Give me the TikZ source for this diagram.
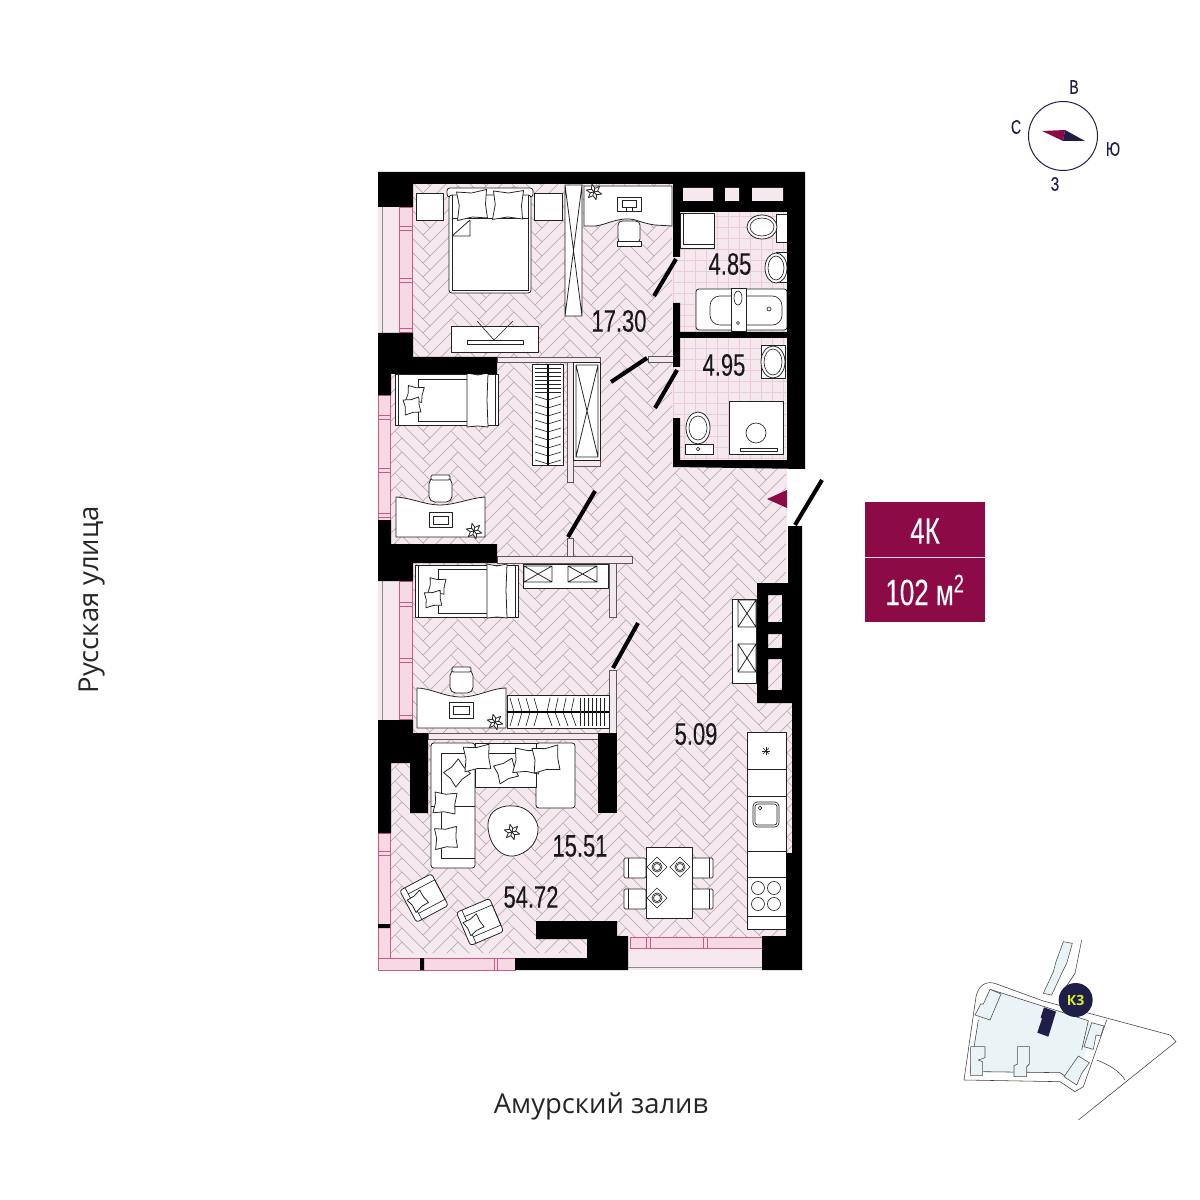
\documentclass[tikz,border=0pt]{standalone}
\usepackage{fontspec}
\setmainfont{Open Sans}
\newfontfamily\numfont[FakeStretch=0.71,FakeBold=0.15]{Liberation Sans}
\newfontfamily\signfont{Open Sans}
\definecolor{floorpink}{HTML}{F6E8EF}
\definecolor{tileline}{HTML}{EBCBDA}
\definecolor{parquetline}{HTML}{BDB0B7}
\definecolor{framepink}{HTML}{C95A86}
\definecolor{framefill}{HTML}{F7D9E5}
\definecolor{wine}{HTML}{8C0B47}
\definecolor{navy}{HTML}{1E1E48}
\definecolor{acid}{HTML}{D8F02E}
\definecolor{siteblue}{HTML}{EAF3F6}
\definecolor{furnline}{HTML}{222222}
\tikzset{
  furn/.style={draw=furnline,fill=white,line width=0.55pt,line join=round},
  thinline/.style={draw=furnline,line width=0.45pt},
  wall/.style={fill=black},
  doorleaf/.style={draw=black,line width=2.9pt},
  partition/.style={draw=black!65,fill=floorpink,line width=0.5pt},
  frameline/.style={draw=framepink,fill=framefill,line width=0.55pt},
  parquet/.style={draw=parquetline,line width=0.45pt},
  arealabel/.style={font=\numfont\fontsize{22}{26}\selectfont,text=black!90,inner sep=0pt},
  sitedraw/.style={draw=black!75,line width=0.4pt},
  house/.style={draw=black!70,fill=siteblue,line width=0.4pt},
}
% repeated furniture
\newcommand{\xbox}[4]{\draw[furn] (#1,#2) rectangle (#3,#4) (#1,#2) -- (#3,#4) (#1,#4) -- (#3,#2);}
\newcommand{\plantat}[2]{%
  \foreach \a in {0,60,...,300}
    \draw[furn,shift={(#1,#2)},rotate=\a+15] (0,0) -- (2,-3) -- (0,-8) -- (-2,-3) -- cycle;}
\newcommand{\pillow}[4]{\draw[furn,shift={(#1,#2)},rotate=#3,scale=#4]
  (-1,-.9) -- (0,-.8) -- (1,-1) -- (.9,0) -- (1,.9) -- (0,.8) -- (-1,1) -- (-.85,0) -- cycle;}
\newcommand{\armchair}[3]{%
  \begin{scope}[shift={(#1,#2)},rotate=#3]
    \draw[furn,rounded corners=2pt] (-18,-18) rectangle (18,18);
    \draw[thinline] (-12,-11) rectangle (18,11) (-12,-18) -- (-12,18);
    \pillow{-7}{0}{8}{8}
  \end{scope}}

\begin{document}
\begin{tikzpicture}[x=0.025cm,y=-0.025cm]
\useasboundingbox (0,0) rectangle (1200,1200);
\fill[white] (0,0) rectangle (1200,1200);

% floor
\fill[floorpink] (413,184) -- (787,184) -- (787,703) -- (792,703) -- (792,853) -- (787,853) -- (787,950) -- (628,950) -- (628,958) -- (390,958)
  -- (390,740) -- (413,720) -- (413,581) -- (390,548) -- (390,373) -- (413,358) -- cycle;
\begin{scope}
  \clip (413,184) -- (672,184) -- (672,468) -- (786,468) -- (786,703) -- (792,703) -- (792,853) -- (786,853) -- (786,937) -- (628,937) -- (628,953)
    -- (390,953) -- (390,740) -- (413,720) -- (413,581) -- (390,548) -- (390,373) -- (413,358) -- cycle;
  \foreach \i in {0,...,7}
    \foreach \j in {0,...,60}
      \draw[parquet,shift={(374+56*\i,186+14*\j)}]
        (0,0) -- (28,-28) -- (21,-35) -- (-7,-7) -- cycle
        (49,-7) -- (56,-14) -- (28,-42) -- (21,-35) -- cycle;
\end{scope}

% bathrooms
\fill[floorpink] (673,205) rectangle (787,335);
\fill[floorpink] (673,335) rectangle (787,462);
\begin{scope}
  \clip (673,205) rectangle (787,462);
  \foreach \t in {0,...,10}
    \draw[tileline,line width=0.45pt] (673+\t*11,205) -- (673+\t*11,462);
  \foreach \t in {0,...,24}
    \draw[tileline,line width=0.45pt] (673,205+\t*11) -- (787,205+\t*11);
\end{scope}

% windows
\fill[floorpink] (378,207) rectangle (399,333);
\draw[black!45,line width=0.4pt] (382,207) -- (382,333);
\draw[frameline] (399,207) rectangle (412,333);
\foreach \y in {228,280,330}
  \draw[frameline] (399,\y-2) rectangle (412,\y+2);
\draw[frameline] (378,395) rectangle (390,520);
\foreach \y in {417,470,515}
  \draw[frameline] (378,\y-2) rectangle (390,\y+2);
\fill[floorpink] (378,581) rectangle (399,720);
\draw[black!45,line width=0.4pt] (382,581) -- (382,720);
\draw[frameline] (399,581) rectangle (412,720);
\foreach \y in {604,660,717}
  \draw[frameline] (399,\y-2) rectangle (412,\y+2);
\draw[frameline] (378,833) rectangle (390,958);
\draw[frameline] (378,851) rectangle (390,855);
\draw[frameline] (378,958) rectangle (515,970);
\draw[frameline] (494,958) rectangle (497,970);
\fill[black] (420,958) rectangle (424,970) (378,924) rectangle (390,928);
\fill[floorpink] (628,948) rectangle (762,970);
\draw[black!45,line width=0.4pt] (628,967) -- (762,967);
\draw[frameline] (630,937) rectangle (762,948);
\foreach \x in {648,705}
  \draw[frameline] (\x-2,937) rectangle (\x+2,948);

% partitions
\draw[partition] (567,362) rectangle (573,482);
\draw[partition] (497,357) rectangle (600,362);
\draw[partition] (648,356) rectangle (673,362);
\draw[partition] (567,538) rectangle (573,556);
\draw[partition] (497,556) rectangle (632,563);
\draw[partition] (609,563) rectangle (616,617);
\draw[partition] (609,670) rectangle (616,733);
\draw[partition] (428,733) rectangle (598,739);
\draw[partition] (573,460) rectangle (600,466);

% main bedroom
\draw[furn] (416,193) rectangle (443,220);
\draw[furn] (534,193) rectangle (562,220);
\draw[furn,rounded corners=2pt] (447,188) rectangle (533,197);
\draw[furn,rounded corners=2pt] (449,195) rectangle (531,293);
\draw[thinline] (452,195) -- (452,290) -- (528,290) -- (528,195);
\draw[thinline] (452,218) -- (528,218);
\pillow{472}{205}{2}{15}
\pillow{508}{205}{-2}{15}
\draw[furn] (452,236) -- (470,220) -- (470,236) -- cycle;
\xbox{565}{185}{582}{316}
\draw[furn] (584,186) -- (672,186) -- (672,226) -- (655,225) .. controls (640,223) and (635,218) .. (625,219) .. controls (612,220) and (605,225) .. (595,226) -- (584,226) -- cycle;
\plantat{594}{192}
\draw[furn] (617,197) rectangle (641,211);
\draw[thinline] (622,200) rectangle (636,207) (626,211) -- (626,207) (632,211) -- (632,207);
\draw[furn,rounded corners=3pt] (618,221) rectangle (640,243);
\draw[furn] (617,241) rectangle (641,246);
\draw[furn] (451,326) rectangle (538,352);
\draw[thinline] (477,321) -- (494,340) -- (513,321);
\draw[furn] (467,340) rectangle (523,344);

% second bedroom
\draw[furn] (395,374) rectangle (498,425);
\draw[thinline] (398,374) -- (398,425) (495,374) -- (495,425);
\draw[thinline] (418,379) -- (467,379) (418,421) -- (467,421) (418,379) -- (418,421);
\draw[furn] (467,373) -- (478,375) -- (488,373) -- (487,400) -- (488,427) -- (478,426) -- (467,427) -- cycle;
\pillow{415}{394}{-10}{8}
\pillow{412}{406}{8}{8}
% hangers
\draw[furn] (532,364) rectangle (563,465);
\draw[black,line width=1.2pt] (548,364) -- (548,465);
\foreach \y in {368,372,...,392}
  \draw[thinline] (535,\y) -- (561,\y);
\foreach \y in {396,404,...,460}
  \draw[thinline] (535,\y) -- (548,\y+4) -- (561,\y);
% wardrobe by the hall
\draw[furn] (573,362) rectangle (600,460);
\xbox{576}{365}{598}{457}
\draw[furn] (396,497) .. controls (412,498) and (425,505) .. (440,505) .. controls (455,505) and (470,498) .. (485,497) -- (485,537) -- (396,537) -- cycle;
\draw[furn,rounded corners=4pt] (429,478) rectangle (452,502);
\draw[furn,rounded corners=1pt] (431,475) rectangle (450,480);
\draw[furn] (429,512) rectangle (452,527);
\draw[thinline] (433,516) rectangle (448,524);
\plantat{474}{531}

% third bedroom
\draw[furn] (415,565) rectangle (518,617);
\draw[thinline] (418,565) -- (418,617) (515,565) -- (515,617);
\draw[thinline] (438,569) -- (487,569) (438,613) -- (487,613) (438,569) -- (438,613);
\draw[furn] (487,564) -- (497,566) -- (507,564) -- (506,590) -- (507,618) -- (497,617) -- (487,618) -- cycle;
\pillow{437}{586}{-8}{8}
\pillow{433}{599}{6}{8}
\draw[furn] (523,564) rectangle (608,588);
\xbox{524}{566}{552}{582}
\xbox{568}{566}{597}{582}
\draw[furn] (417,688) .. controls (430,688) and (445,697) .. (461,697) .. controls (478,697) and (492,688) .. (506,688) -- (506,728) -- (417,728) -- cycle;
\draw[furn,rounded corners=4pt] (450,670) rectangle (473,693);
\draw[furn,rounded corners=1pt] (452,667) rectangle (471,672);
\draw[furn] (449,702) rectangle (473,718);
\draw[thinline] (453,706) rectangle (469,714);
\plantat{495}{722}
\draw[furn] (507,695) rectangle (609,728);
\draw[black,line width=1.2pt] (507,712) -- (609,712);
\foreach \x in {510,518,...,538}
  \draw[thinline] (\x,698) -- (\x+4,712) -- (\x,726);
\foreach \x in {550,558,...,574}
  \draw[thinline] (\x,698) -- (\x-3,712) -- (\x+2,726);
\foreach \x in {580,584,...,606}
  \draw[thinline] (\x,698) -- (\x,726);

% bath one
\draw[furn] (680,213) rectangle (714,248);
\draw[thinline] (683,213) -- (683,244) -- (714,244);
\draw[furn] (776,214) rectangle (787,242);
\draw[furn] (762,227) ellipse (15 and 12);
\draw[thinline] (762,227) ellipse (12 and 9);
\draw[furn] (776,252) rectangle (787,282);
\draw[furn] (776,268) ellipse (11 and 15);
\draw[thinline] (776,268) ellipse (8 and 12);
\draw[furn,rounded corners=2pt] (696,289) rectangle (787,330);
\draw[thinline,rounded corners=7pt] (710,296) rectangle (782,325);
\draw[furn] (731,288) rectangle (746,331);
\draw[thinline] (738,298) ellipse (4 and 7) (738,323) circle (1.5) (769,309) circle (2);

% bath two
\draw[furn] (761,345) rectangle (785,378);
\draw[furn] (773,362) ellipse (12 and 16);
\draw[thinline] (773,362) ellipse (9 and 13);
\draw[furn] (698,428) ellipse (12 and 16);
\draw[thinline] (698,428) ellipse (9 and 12);
\draw[furn] (685,444) rectangle (713,454);
\draw[thinline] (698,449) circle (1.8);
\draw[furn] (729,401) rectangle (783,454);
\draw[thinline] (756,433) circle (10);
\draw[furn] (740,448) rectangle (777,451);

% living room
\draw[furn,rounded corners=2pt] (431,743) rectangle (475,868);
\draw[furn,rounded corners=2pt] (536,743) rectangle (575,808);
\draw[furn] (475,743) rectangle (536,787);
\draw[thinline] (441,753) -- (441,858) -- (475,858) (431,806) -- (475,806) (441,753) -- (536,753);
\pillow{457}{773}{40}{10}
\pillow{477}{758}{4}{13}
\pillow{506}{771}{20}{10}
\pillow{527}{761}{-6}{13}
\pillow{546}{759}{5}{13}
\pillow{445}{803}{-6}{11}
\pillow{446}{838}{3}{11}
\draw[furn] (488,825) .. controls (488,808) and (505,805) .. (513,806) .. controls (530,806) and (539,822) .. (538,830) .. controls (537,848) and (520,857) .. (510,856) .. controls (498,855) and (488,842) .. (488,825) -- cycle;
\plantat{512}{832}
\armchair{424}{898}{28}
\armchair{480}{922}{23}

% dining table
\foreach \y in {858,889}
  {\draw[furn,rounded corners=1pt] (624,\y) rectangle (646,\y+20);
   \draw[thinline] (628,\y) -- (628,\y+20);
   \draw[furn,rounded corners=1pt] (692,\y) rectangle (713,\y+20);
   \draw[thinline] (709,\y) -- (709,\y+20);}
\draw[furn] (646,847) rectangle (692,918);
\foreach \x/\y in {657/867,680/867,657/898}
  {\draw[thinline] (\x-10,\y) -- (\x,\y-10) -- (\x+10,\y) -- (\x,\y+10) -- cycle;
   \draw[thinline] (\x,\y) circle (5) (\x,\y) circle (3.5);}

% kitchen
\draw[furn] (747,732) rectangle (786,929);
\foreach \y in {769,796,851,877,916}
  \draw[thinline] (747,\y) -- (786,\y);
\foreach \a in {0,45,135}
  \draw[thinline,shift={(766,751)},rotate=\a] (-4,0) -- (4,0);
\draw[thinline,shift={(766,751)}] (0,-4) -- (0,4);
\draw[thinline,rounded corners=3pt] (753,802) rectangle (779,827);
\draw[thinline,rounded corners=2pt] (755,804) rectangle (777,825);
\draw[thinline] (760,808) circle (1.8);
\foreach \x/\y in {758/888,774/888,758/904,774/904}
  \draw[thinline] (\x,\y) circle (6.5);

% hood
\draw[furn] (732,599) rectangle (756,683);
\xbox{738}{600}{756}{627}
\xbox{738}{644}{756}{672}

% walls
\fill[wall,even odd rule] (378,172) -- (805,172) -- (805,469) -- (673,467) -- (673,418) -- (680,418)
  -- (680,460) -- (787,460) -- (787,338) -- (680,338) -- (680,367) -- (673,367) -- (673,303) -- (680,303)
  -- (680,332) -- (787,332) -- (787,212) -- (680,212) -- (680,257) -- (673,257) -- (673,184) -- (413,184)
  -- (413,207) -- (378,207) -- cycle
  (683,188) rectangle (713,201) (725,188) rectangle (739,201) (752,188) rectangle (783,201);
\fill[floorpink] (683,188) rectangle (713,201) (725,188) rectangle (739,201) (752,188) rectangle (783,201);
\fill[wall] (378,333) -- (413,333) -- (413,357) -- (497,357) -- (497,374) -- (391,374) -- (391,395) -- (378,395) -- cycle;
\fill[wall] (378,520) -- (391,520) -- (391,544) -- (497,544) -- (497,563) -- (413,563) -- (413,581) -- (378,581) -- cycle;
\fill[wall] (378,720) -- (413,720) -- (413,733) -- (428,733) -- (428,813) -- (410,813) -- (410,763) -- (391,763) -- (391,833) -- (378,833) -- cycle;
\fill[wall] (598,733) rectangle (617,813);
\fill[wall] (536,921) -- (617,921) -- (617,936) -- (628,936) -- (628,970) -- (515,970) -- (515,958) -- (587,958) -- (587,939) -- (536,939) -- cycle;
\fill[wall,even odd rule] (788,526) -- (802,526) -- (802,970) -- (762,970) -- (762,936) -- (786,936) -- (786,853) -- (792,853) -- (792,703) -- (757,703) -- (757,583) -- (788,583) -- cycle
  (768,595) rectangle (782,622) (768,634) rectangle (782,648) (768,659) rectangle (782,690);

% doors
\coordinate (door1a) at (676,259); \coordinate (door1b) at (654,296);
\coordinate (door2a) at (647,358); \coordinate (door2b) at (611,382);
\coordinate (door3a) at (677,370); \coordinate (door3b) at (655,408);
\coordinate (door4a) at (595,491); \coordinate (door4b) at (568,537);
\coordinate (door5a) at (638,623); \coordinate (door5b) at (613,668);
\coordinate (door6a) at (822,480); \coordinate (door6b) at (795,525);
\draw[doorleaf] (door1a) -- (door1b);
\draw[doorleaf] (door2a) -- (door2b);
\draw[doorleaf] (door3a) -- (door3b);
\draw[doorleaf] (door4a) -- (door4b);
\draw[doorleaf] (door5a) -- (door5b);
\draw[doorleaf] (door6a) -- (door6b);
\fill[wine] (767,499) -- (787,490) -- (787,508) -- cycle;

% areas
\node[arealabel] (bath1) at (730,264) {4.85};
\node[arealabel] (bath2) at (724,365) {4.95};
\node[arealabel] (bedroom) at (619,321) {17.30};
\node[arealabel] (hall) at (696,734) {5.09};
\node[arealabel] (living) at (580,846) {15.51};
\node[arealabel] (total) at (531,897) {54.72};

% streets
\node[font=\signfont\fontsize{19.5}{23}\selectfont,text=black!85,inner sep=0pt] (bay) at (601,1106) {Амурский залив};
\node[font=\signfont\fontsize{19.5}{23}\selectfont,text=black!85,inner sep=0pt,rotate=90] (street) at (92,600) {Русская улица};

% badge
\fill[wine] (865,502) rectangle (985,622);
\draw[framefill,line width=0.5pt] (865,557) -- (985,557);
\node[font=\numfont\fontsize{26}{30}\selectfont,text=white,inner sep=0pt] (rooms) at (925,531) {4К};
\node[font=\numfont\fontsize{26}{30}\selectfont,text=white,inner sep=0pt] (size) at (925,590) {102 м\textsuperscript{2}};

% compass
\draw[navy,line width=0.7pt] (1063,136) circle (34.5);
\fill[wine] (1042,131) -- (1065,130) -- (1063,141) -- cycle;
\fill[navy] (1065,130) -- (1085,141) -- (1063,141) -- cycle;
\foreach \nm/\x/\y/\t in {east/1074/87/В,north/1016/127/С,south/1113/149/Ю,west/1055/184/З}
  \node[font=\numfont\fontsize{14}{16}\selectfont,text=navy,inner sep=0pt] (\nm) at (\x,\y) {\t};

% site plan
\begin{scope}[shift={(950,930)},scale=1/3]
  \fill[siteblue] (85,270) -- (120,178) -- (415,272) -- (460,285) -- (400,380) -- (340,435) -- (330,428) -- (60,428) -- cycle;
  \draw[sitedraw] (85,270) -- (60,428) (120,178) -- (415,272) -- (395,360) (100,425) -- (330,428) -- (345,438);
  \draw[sitedraw] (42,450) -- (78,200) .. controls (85,165) and (110,150) .. (140,162) -- (280,213) -- (660,315) -- (678,335) -- (385,570);
  \draw[sitedraw] (42,450) -- (330,455) -- (375,485) -- (400,470) -- (470,270);
  \draw[sitedraw] (395,30) -- (375,130) -- (345,175);
  \draw[sitedraw] (440,390) .. controls (480,405) and (510,425) .. (525,450);
  \draw[house] (340,35) -- (367,40) -- (350,100) -- (335,130) -- (305,195) -- (280,190) -- (310,125) -- (318,95) -- cycle;
  \draw[house] (120,178) -- (153,192) -- (120,270) -- (75,255) -- (92,222) -- (100,222) -- cycle;
  \draw[house] (62,350) -- (105,350) -- (105,383) -- (85,390) -- (97,395) -- (97,437) -- (62,437) -- cycle;
  \draw[house] (203,350) -- (238,350) -- (238,402) -- (230,410) -- (230,440) -- (192,440) -- (192,407) -- (203,402) -- cycle;
  \draw[house] (425,278) -- (462,288) -- (452,318) -- (438,315) -- (430,358) -- (402,350) -- cycle;
  \draw[house] (385,378) -- (418,398) -- (395,430) -- (380,465) -- (342,440) -- cycle;
  \fill[navy] (282,232) -- (318,245) -- (306,285) -- (295,320) -- (262,308) -- (276,266) -- (272,262) -- cycle;
  \node[circle,fill=navy,minimum size=0.85cm,inner sep=0pt,font=\signfont\fontsize{10}{12}\selectfont\bfseries,text=acid] (building) at (377,210) {К3};
\end{scope}
\end{tikzpicture}
\end{document}
